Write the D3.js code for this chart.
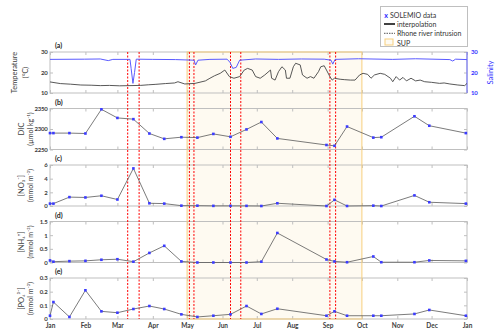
<!DOCTYPE html>
<html lang="en">
<head>
<meta charset="utf-8">
<title>SOLEMIO time series</title>
<script src="https://cdn.jsdelivr.net/npm/d3@7"></script>
<style>
body{margin:0;background:#fff;}
text{font-family:Lato,"Open Sans",sans-serif;}
</style>
</head>
<body>
<script>
var w = 500, h = 336;

// sampling dates (SOLEMIO)
var sampleDates = ["2017-01-01","2017-01-04","2017-01-18","2017-02-01","2017-02-15","2017-03-01",
  "2017-03-15","2017-03-29","2017-04-11","2017-04-26","2017-05-10","2017-05-24","2017-06-08",
  "2017-06-22","2017-07-05","2017-07-19","2017-08-31","2017-09-07","2017-09-18","2017-10-11",
  "2017-10-18","2017-11-16","2017-11-29","2017-12-31"];
var dic = [2290,2290,2290,2289,2348,2327,2324,2289,2276,2280,2279,2288,2281,2299,2317,2277,2261,2259,2306,2279,2280,2331,2308,2290];
var no3 = [0.35,0.35,1.3,1.25,1.5,0.95,5.5,0.4,0.35,0.05,0.05,0.02,0.02,0.02,0.0,0.4,0.0,0.9,0.0,0.05,0.0,1.55,0.55,0.35];
var nh4 = [0.075,0.03,0.05,0.06,0.1,0.12,0.03,0.35,0.61,0.04,0.0,0.0,0.0,0.0,0.03,1.08,0.11,0.04,0.01,0.22,0.01,0.01,0.075,0.06];
var po4 = [0.024,0.124,0.015,0.21,0.056,0.046,0.073,0.095,0.073,0.034,0.015,0.024,0.034,0.095,0.037,0.075,0.024,0.056,0.024,0.024,0.024,0.037,0.066,0.024];

// continuous records (day of year)
var tempDay = [0,9,18,27,36,44,52,61,70,79,86,92,101,109,112,118,127,136,140,144,149,153,157,161,166,170,173,177,180,184,188,193,194,197,
  200,203,206,207,210,213,215,219,221,225,228,231,235,237,240,242,245,247,249,254,258,263,267,271,274,278,281,284,289,293,298,
  300,303,306,309,312,316,320,324,328,334,341,345,350,357,363,365];
var tempVal = [15.4,14.6,14.3,13.9,13.8,13.6,13.7,13.5,13.6,13.7,14.0,14.2,14.6,14.9,15.5,14.4,14.7,15.9,17.2,18.4,19.6,21.2,18.0,17.2,
  18.0,21.2,22.0,21.2,18.0,17.2,18.8,21.2,17.2,16.3,20.4,22.8,21.2,17.2,17.2,22.8,24.5,23.7,18.8,17.2,
  18.0,17.2,20.4,22.8,23.3,21.2,18.0,16.3,17.2,16.7,16.5,16.3,16.3,18.8,19.6,19.1,17.2,18.8,19.6,19.1,17.2,
  15.5,18.0,16.3,17.6,15.9,17.2,15.9,16.3,15.5,15.2,14.7,14.9,14.4,13.9,13.6,14.7];
var salDay = [0,30,44,51,55,70,71,72.6,74,75.5,90,110,126,127.5,129.5,140,155,157.5,160,163,166,180,200,220,240,246,247.5,249.5,270,300,320,350,352.5,355,365];
var salVal = [26.4,26.5,26.6,25.8,26.4,26.4,22,14.7,20,26.5,26.4,26.3,26.0,23.7,26.0,26.4,26.5,25.0,22.0,22.5,26.0,26.6,26.4,26.6,26.5,26.0,24.1,26.4,26.7,26.4,26.7,26.3,25.6,26.5,26.3];

// Rhone river intrusions and SUP period
var intrusions = [["2017-03-10","2017-03-20"],["2017-05-03","2017-05-07"],["2017-06-08","2017-06-17"],["2017-09-03","2017-09-08"]];
var supPeriod = ["2017-05-01","2017-10-01"];

// panel axes
var panelLetters = ["(a)","(b)","(c)","(d)","(e)"];
var panelDomains = [[10,30],[2250,2350],[0,6],[0,1.5],[0,0.3]];
var panelTicks = [[10,20,30],[2250,2300,2350],[0,2,4,6],[0,0.5,1,1.5],[0,0.1,0.2,0.3]];
var titleLine1 = ["Temperature","DIC","[NO\u2083\u207B]","[NH\u2084\u207A]","[PO\u2084\u00B3\u207B]"];
var titleLine2 = ["(\u00B0C)","(\u00B5mol kg\u207B\u00B9)","(mmol m\u207B\u00B3)","(mmol m\u207B\u00B3)","(mmol m\u207B\u00B3)"];

var parse = d3.utcParse("%Y-%m-%d");
var t0 = Date.UTC(2017,0,1);
function dayToDate(d){ return new Date(t0 + d*864e5); }

var left = 50, right = 467, top0 = 52, step = 56.5, ph = 41;
var bottomAll = top0 + 4*step + ph;

var x = d3.scaleUtc()
  .domain([new Date(t0), new Date(Date.UTC(2018,0,1))])
  .range([left, right]);

var svg = d3.select("body").append("svg")
  .attr("width", w).attr("height", h);

// SUP background
var supX0 = x(parse(supPeriod[0])), supX1 = x(parse(supPeriod[1]));
svg.append("rect")
  .attr("x", supX0).attr("y", top0)
  .attr("width", supX1 - supX0).attr("height", bottomAll - top0)
  .attr("fill", "#fefaf1");

var grey = "#bfbfbf";
var labelCol = "#404040";
var series = [null, dic, no3, nh4, po4];
var yScales = [];

panelLetters.forEach(function(letter, i){
  var top = top0 + i*step, bot = top + ph;
  var y = d3.scaleLinear().domain(panelDomains[i]).range([bot, top]);
  yScales.push(y);
  var g = svg.append("g");

  g.append("rect").attr("x", left).attr("y", top)
    .attr("width", right-left).attr("height", ph)
    .attr("fill", "none").attr("stroke", grey).attr("stroke-width", 1);

  var xb = d3.axisBottom(x).ticks(d3.utcMonth.every(1)).tickSize(-3).tickPadding(4.5)
    .tickFormat(i == 4 ? d3.utcFormat("%b") : "");
  var gb = g.append("g").attr("transform", "translate(0," + bot + ")").call(xb);
  var gt = g.append("g").attr("transform", "translate(0," + top + ")")
    .call(d3.axisTop(x).ticks(d3.utcMonth.every(1)).tickSize(-3).tickFormat(""));
  var gl = g.append("g").attr("transform", "translate(" + left + ",0)")
    .call(d3.axisLeft(y).tickValues(panelTicks[i]).tickSize(-3).tickPadding(2.5)
      .tickFormat(function(d){ return d3.format("")(d); }));
  var gr = g.append("g").attr("transform", "translate(" + right + ",0)")
    .call(d3.axisRight(y).tickValues(panelTicks[i]).tickSize(-3).tickPadding(4)
      .tickFormat(i == 0 ? d3.format("") : ""));

  [gb, gt, gl, gr].forEach(function(a){
    a.select(".domain").remove();
    a.selectAll(".tick line").attr("stroke", grey);
    a.selectAll(".tick text").attr("fill", labelCol)
      .attr("font-size", "6px").attr("font-weight", "bold")
      .attr("letter-spacing", "-0.2px")
      .attr("font-family", "Lato, 'Open Sans', sans-serif");
  });
  gb.selectAll(".tick text").attr("font-size", "6.5px").attr("letter-spacing", "0px");
  if (i == 0) {
    gr.selectAll(".tick text").attr("fill", "#3333ff");
    g.append("line").attr("x1", right).attr("x2", right).attr("y1", top).attr("y2", bot)
      .attr("stroke", "#6b6bff").attr("stroke-width", 1);
  }

  g.append("text").attr("x", left + 5).attr("y", top - 4)
    .attr("font-size", "7px").attr("font-weight", "bold").attr("fill", "#222")
    .text(letter);

  var cy = (top + bot)/2;
  var tx1 = i == 0 ? 14 : 21, tx2 = i == 0 ? 25 : 29.5;
  g.append("text").attr("transform", "translate(" + tx1 + "," + cy + ") rotate(-90)")
    .attr("text-anchor", "middle").attr("dominant-baseline", "central")
    .attr("font-size", "7.5px").attr("fill", labelCol).text(titleLine1[i]);
  g.append("text").attr("transform", "translate(" + tx2 + "," + cy + ") rotate(-90)")
    .attr("text-anchor", "middle").attr("dominant-baseline", "central")
    .attr("font-size", "7px").attr("fill", labelCol).text(titleLine2[i]);
});

// Salinity title
svg.append("text").attr("transform", "translate(490," + (top0 + ph/2) + ") rotate(-90)")
  .attr("text-anchor", "middle").attr("dominant-baseline", "central")
  .attr("font-size", "7.5px").attr("fill", "#3333ff").text("Salinity");

// SUP outline
svg.append("rect")
  .attr("x", supX0).attr("y", top0)
  .attr("width", supX1 - supX0).attr("height", bottomAll - top0)
  .attr("fill", "none").attr("stroke", "#f7cf7e").attr("stroke-width", 1);

// Rhone river intrusions
var redDates = [];
intrusions.forEach(function(p){ redDates.push(p[0], p[1]); });
svg.selectAll("line.intr").data(redDates).enter().append("line")
  .attr("class", "intr")
  .attr("x1", function(d){ return x(parse(d)); })
  .attr("x2", function(d){ return x(parse(d)); })
  .attr("y1", top0).attr("y2", bottomAll)
  .attr("stroke", "#ff0000").attr("stroke-width", 1)
  .attr("stroke-dasharray", "2,1.5");

// panel (a): temperature + salinity
var yT = yScales[0];
var tempData = tempDay.map(function(d, k){ return [dayToDate(d), tempVal[k]]; });
var salData = salDay.map(function(d, k){ return [dayToDate(d), salVal[k]]; });
svg.append("path").datum(salData)
  .attr("fill", "none").attr("stroke", "#5a5aff").attr("stroke-width", 1)
  .attr("d", d3.line().x(function(d){ return x(d[0]); }).y(function(d){ return yT(d[1]); }));
svg.append("path").datum(tempData)
  .attr("fill", "none").attr("stroke", "#454545").attr("stroke-width", 0.9)
  .attr("stroke-linejoin", "round")
  .attr("d", d3.line().x(function(d){ return x(d[0]); }).y(function(d){ return yT(d[1]); }));

// sampled panels
var dates = sampleDates.map(parse);
for (var i = 1; i < 5; i++) {
  var y = yScales[i];
  var pts = dates.map(function(d, k){ return [d, series[i][k]]; });
  svg.append("path").datum(pts)
    .attr("fill", "none").attr("stroke", "#595959").attr("stroke-width", 0.8)
    .attr("d", d3.line().x(function(d){ return x(d[0]); }).y(function(d){ return y(d[1]); }));
  svg.append("g").selectAll("rect").data(pts).enter().append("rect")
    .attr("x", function(d){ return x(d[0]) - 1.3; })
    .attr("y", function(d){ return y(d[1]) - 1.3; })
    .attr("width", 2.6).attr("height", 2.6)
    .attr("fill", "#3b3bff");
}

// legend
var lg = svg.append("g");
lg.append("rect").attr("x", 380.5).attr("y", 6.5).attr("width", 87).attr("height", 40)
  .attr("fill", "#fff").attr("stroke", grey);
lg.append("text").attr("x", 386).attr("y", 14.5).attr("text-anchor", "middle")
  .attr("dominant-baseline", "central").attr("font-size", "7px").attr("font-weight", "bold")
  .attr("fill", "#2222ff").text("x");
lg.append("text").attr("x", 390).attr("y", 14.5).attr("dominant-baseline", "central")
  .attr("font-size", "7px").attr("fill", "#333").text("SOLEMIO data");
lg.append("line").attr("x1", 384).attr("x2", 395).attr("y1", 24).attr("y2", 24)
  .attr("stroke", "#111").attr("stroke-width", 1.6);
lg.append("text").attr("x", 397).attr("y", 24).attr("dominant-baseline", "central")
  .attr("font-size", "7px").attr("fill", "#333").text("interpolation");
lg.append("line").attr("x1", 384).attr("x2", 395).attr("y1", 33.3).attr("y2", 33.3)
  .attr("stroke", "#555").attr("stroke-width", 1).attr("stroke-dasharray", "1.5,1");
lg.append("text").attr("x", 397).attr("y", 33.3).attr("dominant-baseline", "central")
  .attr("font-size", "7px").attr("fill", "#333").text("Rhone river intrusion");
lg.append("rect").attr("x", 385).attr("y", 39).attr("width", 8).attr("height", 6)
  .attr("fill", "#fefaf1").attr("stroke", "#f7cf7e");
lg.append("text").attr("x", 397).attr("y", 42.5).attr("dominant-baseline", "central")
  .attr("font-size", "7px").attr("fill", "#333").text("SUP");
</script>
</body>
</html>
